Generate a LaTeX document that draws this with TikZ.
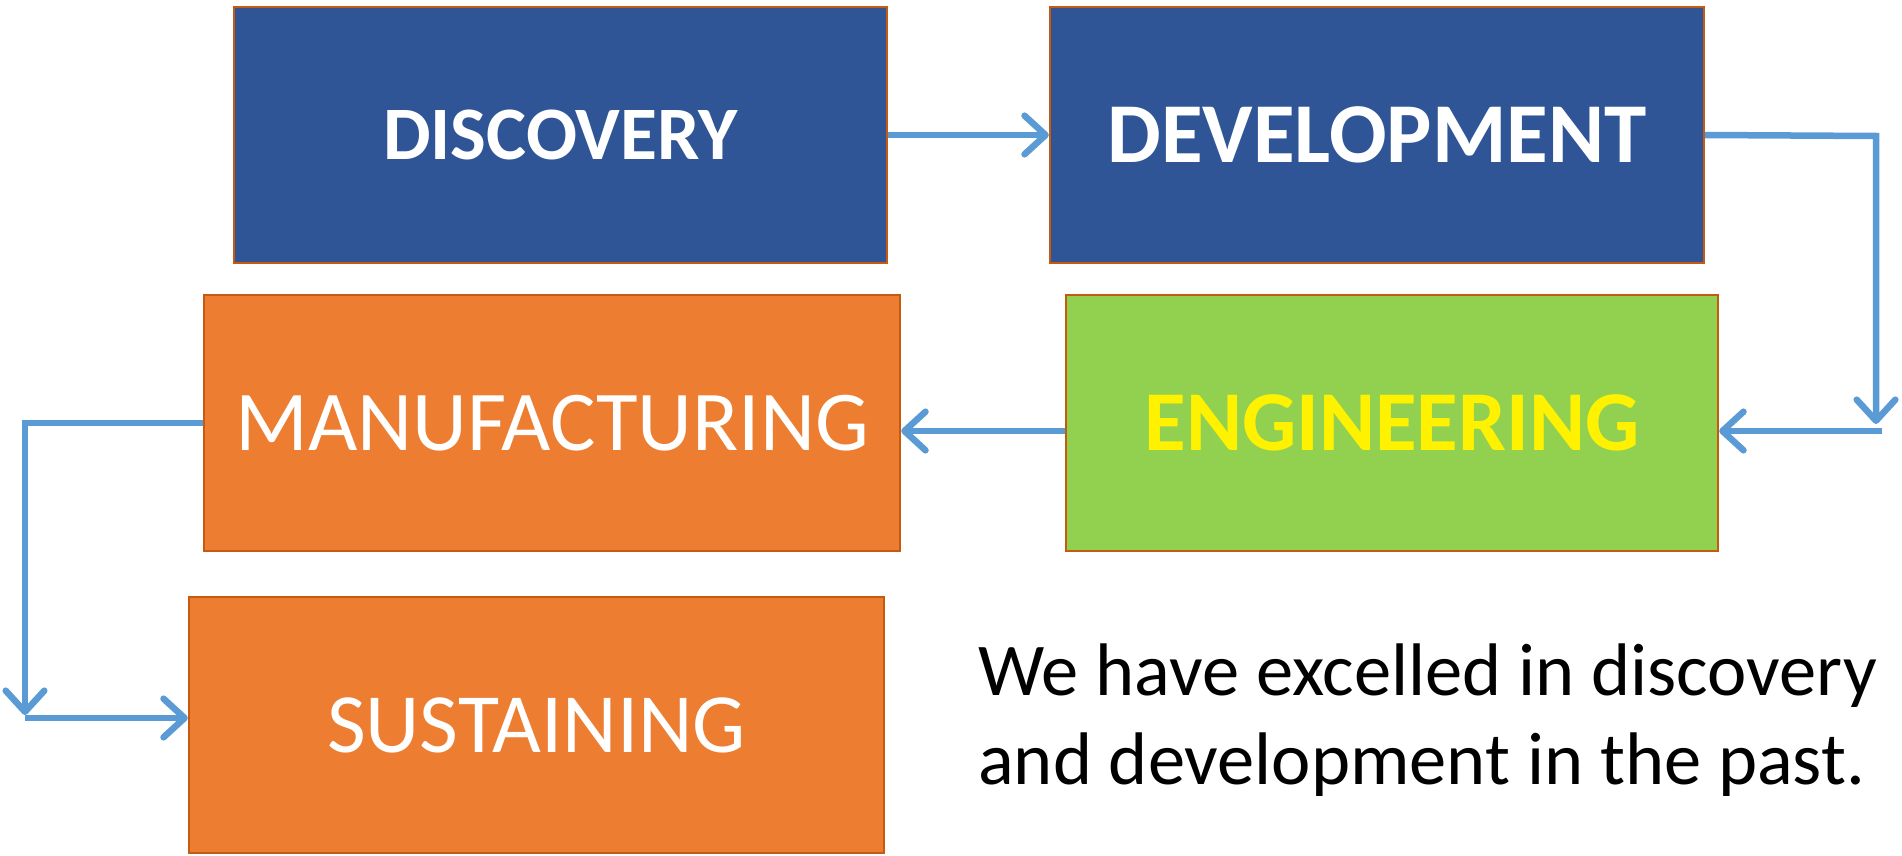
\documentclass[tikz,border=0pt]{standalone}
\usepackage{fontspec}
\setmainfont{Carlito}
\usetikzlibrary{arrows.meta}
\definecolor{boxblue}{RGB}{47,85,151}
\definecolor{boxorange}{RGB}{237,125,49}
\definecolor{boxgreen}{RGB}{146,208,80}
\definecolor{edgebrown}{RGB}{197,90,17}
\definecolor{flowblue}{RGB}{91,155,213}
\tikzset{
  box/.style={draw=edgebrown, line width=1.4pt, minimum height=5.12cm, inner sep=0pt, text=white},
  flow/.style={draw=flowblue, line width=3.7pt, -{Straight Barb[length=12pt, width=22pt, round]}}
}
\begin{document}
\begin{tikzpicture}[x=0.02cm, y=-0.02cm]
        \useasboundingbox (0,0) rectangle (1902,855);
        \node[box, fill=boxblue, minimum width=13.06cm, font=\fontsize{43}{50}\selectfont\bfseries] (disc) at (560.5,135) {DISCOVERY};
        \node[box, fill=boxblue, minimum width=13.08cm, font=\fontsize{48.5}{56}\selectfont\bfseries] (devel) at (1377,135) {DEVELOPMENT};
        \node[box, fill=boxorange, minimum width=13.92cm, font=\fontsize{48.5}{58}\selectfont] (manuf) at (552,423) {MANUFACTURING};
        \node[box, fill=boxgreen, minimum width=13.04cm, text=yellow, font=\fontsize{48.5}{58}\selectfont\bfseries] (engin) at (1392,423) {ENGINEERING};
        \node[box, fill=boxorange, minimum width=13.9cm, font=\fontsize{48}{56}\selectfont] (sustain) at (536.5,725) {SUSTAINING};
        \node[align=left, font=\fontsize{42.4}{50.4}\selectfont, anchor=west] (note) at (972,720) {We have excelled in discovery\\and development in the past.};
        \coordinate (rtop) at (1876,136);
        \coordinate (rbot) at (1876,424);
        \coordinate (rend) at (1882,431);
        \coordinate (ltop) at (25,423);
        \coordinate (lbot) at (25,715);
        \coordinate (lend) at (25,718);
        \draw[flow] (disc.east) -- (devel.west);
        \draw[flow] (devel.east) -- (rtop) -- (rbot);
        \draw[flow] (rend) -- (engin.east |- rend);
        \draw[flow] (engin.west |- rend) -- (manuf.east |- rend);
        \draw[flow] (manuf.west) -- (ltop) -- (lbot);
        \draw[flow] (lend) -- (sustain.west |- lend);
    \end{tikzpicture}
\end{document}
